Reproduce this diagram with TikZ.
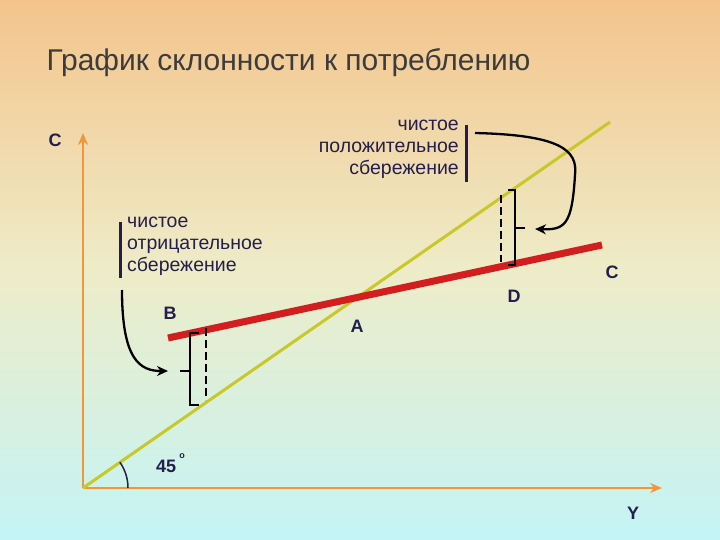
\documentclass[tikz,border=0pt]{standalone}
\usepackage{fontspec}
\setmainfont{Liberation Sans}
\usetikzlibrary{arrows.meta}
\definecolor{ink}{RGB}{35,30,75}
\definecolor{ttl}{RGB}{60,60,60}
\definecolor{bgtop}{RGB}{244,196,140}
\definecolor{bgmid}{RGB}{238,236,200}
\definecolor{bgbot}{RGB}{196,244,246}
\definecolor{ylw}{RGB}{200,200,40}
\definecolor{redl}{RGB}{210,30,30}
\definecolor{axis}{RGB}{240,150,60}
\tikzset{lbl/.style={font=\bfseries\fontsize{18}{20}\selectfont,text=ink,inner sep=0pt},
 txt/.style={font=\fontsize{19.5}{22}\selectfont,text=ink,inner sep=0pt,align=left},
 bar/.style={line width=3pt,ink},
 brk/.style={line width=2.5pt,black},
 curv/.style={line width=2.3pt,black,-{Stealth[length=11pt,width=10pt]}}}
\begin{document}
\begin{tikzpicture}[x=1pt,y=-1pt]
\shade[top color=bgtop,bottom color=bgbot,middle color=bgmid] (0,0) rectangle (720,540);
\useasboundingbox (0,0) rectangle (720,540);
\node[anchor=west,font=\fontsize{30}{34}\selectfont,text=ttl] (title) at (43,63) {График склонности к потреблению};
\coordinate (O) at (83,488);
\coordinate (Ytop) at (83,133);
\coordinate (Xend) at (662,488);
\draw[line width=2.5pt,axis,-{Stealth[length=12pt,width=10pt]}] (O) -- (Ytop);
\draw[line width=2.5pt,axis,-{Stealth[length=12pt,width=10pt]}] (O) -- (Xend);
\coordinate (L1) at (610,122);
\draw[line width=3pt,ylw] (O) -- (L1);
\coordinate (R1) at (168,338); \coordinate (R2) at (602,245);
\draw[line width=7pt,redl] (R1) -- (R2);
\draw[line width=1.5pt,ink] (128,488) arc[start angle=0,end angle=-35,radius=45];
\node[lbl] (c1) at (55,140) {C};
\node[lbl] (y) at (633,513) {Y};
\node[lbl] (a) at (357,326) {A};
\node[lbl] (b) at (170,313) {B};
\node[lbl] (d) at (514,296) {D};
\node[lbl] (c2) at (612,272) {C};
\node[lbl,anchor=west] (ang) at (156,466) {45};
\node[font=\bfseries\fontsize{9}{9}\selectfont,text=ink] (deg) at (182,456) {o};
\node[txt,anchor=north east,align=right] (tp) at (459,120) {чистое\\положительное\\сбережение};
\draw[bar] (466,125) -- (466,182);
\node[txt,anchor=north west] (tn) at (127,217) {чистое\\отрицательное\\сбережение};
\draw[bar] (120,222) -- (120,278);
% bracket B
\draw[brk] (199,333) -- (190,333) -- (190,405) -- (199,405);
\draw[brk] (180,371) -- (190,371);
\draw[line width=2.5pt,black,dash pattern=on 8pt off 4pt] (206,328) -- (206,400);
\coordinate (bs) at (122,290); \coordinate (be) at (168,371);
\draw[curv] (bs) .. controls (122,360) and (140,371) .. (be);
% bracket D
\draw[brk] (508,190) -- (515,190) -- (515,265) -- (508,265);
\draw[brk] (515,228) -- (525,228);
\draw[line width=2.5pt,black,dash pattern=on 8pt off 4pt] (501,195) -- (501,262);
\coordinate (ds) at (475,133); \coordinate (de) at (535,229);
\draw[curv] (ds) .. controls (560,135) and (578,150) .. (575,175) .. controls (572,225) and (565,230) .. (de);
\end{tikzpicture}
\end{document}
